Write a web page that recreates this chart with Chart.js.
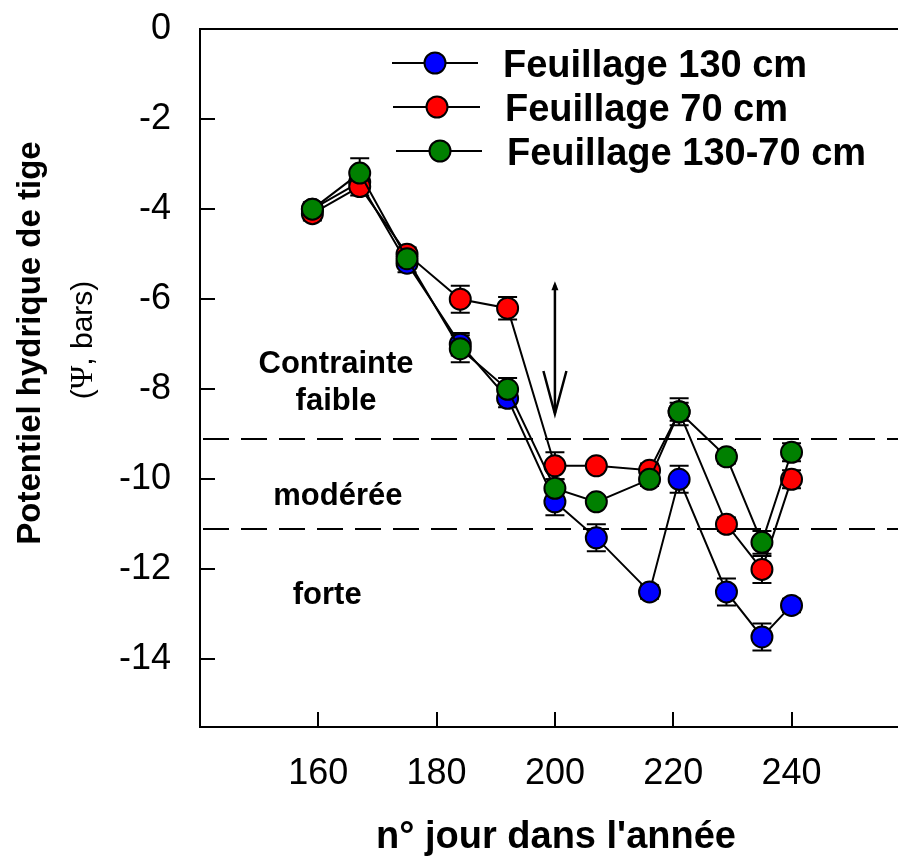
<!DOCTYPE html>
<html>
<head>
<meta charset="utf-8">
<script src="https://cdn.jsdelivr.net/npm/chart.js@4.4.1/dist/chart.umd.min.js"></script>
<style>
html,body{margin:0;padding:0;background:#fff;overflow:hidden}
#wrap{width:898px;height:858px;position:relative}
</style>
</head>
<body>
<div id="wrap"><canvas id="c" width="898" height="858"></canvas></div>
<script>
// ---------- data ----------
const DAYS = [159, 167, 175, 184, 192, 200, 207, 216, 221, 229, 235, 240];
const PSI_130    = [-4.0, -3.4, -5.2, -7.0, -8.2, -10.5, -11.3, -12.5, -10.0, -12.5, -13.5, -12.8];
const PSI_70     = [-4.1, -3.5, -5.0, -6.0, -6.2,  -9.7,  -9.7,  -9.8,  -8.5, -11.0, -12.0, -10.0];
const PSI_130_70 = [-4.0, -3.2, -5.1, -7.1, -8.0, -10.2, -10.5, -10.0,  -8.5,  -9.5, -11.4,  -9.4];
const ERR_130    = [0.15, 0.15, 0.2, 0.25, 0.2, 0.3, 0.3, 0.15, 0.3, 0.3, 0.3, 0.15];
const ERR_70     = [0.15, 0.2, 0.15, 0.3, 0.25, 0.3, 0.1, 0.15, 0.2, 0.15, 0.3, 0.2];
const ERR_130_70 = [0.1, 0.33, 0.2, 0.3, 0.25, 0.2, 0.1, 0.15, 0.3, 0.15, 0.25, 0.2];
const SERIES_LABELS = ['Feuillage 130 cm', 'Feuillage 70 cm', 'Feuillage 130-70 cm'];
const SERIES_COLORS = ['#0000ff', '#ff0000', '#008000'];
const X_TICKS = [160, 180, 200, 220, 240];
const Y_TICKS = [-14, -12, -10, -8, -6, -4, -2, 0];
const STRESS_LIMITS = [-9.1, -11.1];
const ZONE_LABELS = ['Contrainte', 'faible', 'modérée', 'forte'];
const X_TITLE = "n° jour dans l'année";
const Y_TITLE = 'Potentiel hydrique de tige';
const Y_SUBTITLE_PARTS = ['(', 'Ψ', ', bars)'];
const ARROW_DAY = 200, ARROW_FROM = -5.6, ARROW_TO = -8.55;

// ---------- layout (not data) ----------
const FONT = '"Liberation Sans", Arial, sans-serif';
const SERIF = '"Liberation Serif", "Times New Roman", serif';
const ZONE_POS = [[163.0, -7.65], [163.0, -8.47], [163.3, -10.58], [161.5, -12.76]];
const LEGEND_ROWS = [
  {y: 63,  x0: 392, x1: 478, mx: 435, tx: 503},
  {y: 107, x0: 393, x1: 480, mx: 437, tx: 505},
  {y: 151, x0: 396, x1: 482, mx: 440, tx: 507}
];

const VALUES = [PSI_130, PSI_70, PSI_130_70];
const ERRORS = [ERR_130, ERR_70, ERR_130_70];
const ORDERS = [2, 1, 0];

const datasets = VALUES.map((vals, s) => ({
  label: SERIES_LABELS[s],
  data: DAYS.map((d, i) => ({x: d, y: vals[i]})),
  borderColor: '#000',
  borderWidth: 2,
  backgroundColor: SERIES_COLORS[s],
  pointBackgroundColor: SERIES_COLORS[s],
  pointBorderColor: '#000',
  pointBorderWidth: 2,
  pointRadius: 10.5,
  pointHoverRadius: 10.5,
  tension: 0,
  fill: false,
  order: ORDERS[s]
}));

const decor = {
  id: 'decor',
  beforeDatasetsDraw(chart) {
    const {ctx, chartArea: a, scales: {x, y}} = chart;
    ctx.save();
    ctx.strokeStyle = '#000';
    ctx.lineWidth = 2;
    ctx.setLineDash([26, 12]);
    STRESS_LIMITS.forEach(v => {
      const py = Math.round(y.getPixelForValue(v));
      ctx.beginPath(); ctx.moveTo(a.left + 3, py); ctx.lineTo(a.right, py); ctx.stroke();
    });
    ctx.setLineDash([]);
    ctx.lineWidth = 2;
    VALUES.forEach((vals, s) => {
      vals.forEach((v, i) => {
        const e = ERRORS[s][i];
        const px = x.getPixelForValue(DAYS[i]);
        const t = y.getPixelForValue(v + e), b = y.getPixelForValue(v - e);
        ctx.beginPath();
        ctx.moveTo(px, t); ctx.lineTo(px, b);
        ctx.moveTo(px - 9.5, t); ctx.lineTo(px + 9.5, t);
        ctx.moveTo(px - 9.5, b); ctx.lineTo(px + 9.5, b);
        ctx.stroke();
      });
    });
    ctx.restore();
  },
  afterDraw(chart) {
    const {ctx, chartArea: a, scales: {x, y}} = chart;
    ctx.save();
    ctx.strokeStyle = '#000';
    ctx.fillStyle = '#000';
    // frame
    ctx.lineWidth = 2;
    ctx.beginPath();
    ctx.moveTo(a.right + 2, a.top); ctx.lineTo(a.left, a.top); ctx.lineTo(a.left, a.bottom); ctx.lineTo(a.right + 2, a.bottom);
    ctx.stroke();
    // inward ticks
    ctx.beginPath();
    Y_TICKS.forEach(v => { const py = Math.round(y.getPixelForValue(v)); ctx.moveTo(a.left, py); ctx.lineTo(a.left + 15, py); });
    X_TICKS.forEach(v => { const px = Math.round(x.getPixelForValue(v)); ctx.moveTo(px, a.bottom); ctx.lineTo(px, a.bottom - 15); });
    ctx.stroke();
    // arrow
    const ax = x.getPixelForValue(ARROW_DAY);
    const ay0 = y.getPixelForValue(ARROW_FROM), ay1 = y.getPixelForValue(ARROW_TO);
    ctx.lineWidth = 2.5;
    ctx.beginPath(); ctx.moveTo(ax, ay0 + 4); ctx.lineTo(ax, ay1 - 1); ctx.stroke();
    ctx.beginPath(); ctx.moveTo(ax - 11.5, ay1 - 43); ctx.lineTo(ax, ay1); ctx.lineTo(ax + 11.5, ay1 - 43); ctx.stroke();
    ctx.beginPath(); ctx.moveTo(ax, ay0); ctx.lineTo(ax - 3.5, ay0 + 9); ctx.lineTo(ax + 3.5, ay0 + 9); ctx.closePath(); ctx.fill();
    // zone labels
    ctx.font = 'bold 31px ' + FONT;
    ctx.textAlign = 'center';
    ctx.textBaseline = 'alphabetic';
    ZONE_LABELS.forEach((t, i) => {
      ctx.fillText(t, x.getPixelForValue(ZONE_POS[i][0]), y.getPixelForValue(ZONE_POS[i][1]));
    });
    // legend
    [0, 1, 2].forEach((s, r) => {
      const L = LEGEND_ROWS[r];
      ctx.lineWidth = 2;
      ctx.strokeStyle = '#000';
      ctx.beginPath(); ctx.moveTo(L.x0, L.y); ctx.lineTo(L.x1, L.y); ctx.stroke();
      ctx.beginPath(); ctx.arc(L.mx, L.y, 10.5, 0, Math.PI * 2);
      ctx.fillStyle = SERIES_COLORS[s]; ctx.fill(); ctx.stroke();
      ctx.fillStyle = '#000';
      ctx.font = 'bold 38px ' + FONT;
      ctx.textAlign = 'left';
      ctx.textBaseline = 'alphabetic';
      ctx.fillText(SERIES_LABELS[s], L.tx, L.y + 14);
    });
    // x title
    ctx.font = 'bold 38px ' + FONT;
    ctx.textAlign = 'center';
    ctx.textBaseline = 'alphabetic';
    ctx.fillText(X_TITLE, 556, 848);
    // y title
    ctx.save();
    ctx.translate(31, 343);
    ctx.rotate(-Math.PI / 2);
    ctx.textAlign = 'center'; ctx.textBaseline = 'middle';
    ctx.font = 'bold 33px ' + FONT;
    ctx.fillText(Y_TITLE, 0, 0);
    ctx.restore();
    // y subtitle with serif Psi
    ctx.save();
    ctx.translate(84, 340);
    ctx.rotate(-Math.PI / 2);
    ctx.textBaseline = 'middle';
    ctx.textAlign = 'left';
    const fonts = ['30px ' + FONT, '32px ' + SERIF, '30px ' + FONT];
    let total = 0;
    const widths = Y_SUBTITLE_PARTS.map((p, i) => { ctx.font = fonts[i]; const w = ctx.measureText(p).width; total += w; return w; });
    let cx = -total / 2;
    Y_SUBTITLE_PARTS.forEach((p, i) => { ctx.font = fonts[i]; ctx.fillText(p, cx, 0); cx += widths[i]; });
    ctx.restore();
    ctx.restore();
  }
};

new Chart(document.getElementById('c'), {
  type: 'line',
  data: {datasets},
  options: {
    responsive: false,
    animation: false,
    events: [],
    layout: {padding: {top: 29, left: 0, right: 0, bottom: 0}, autoPadding: false},
    plugins: {legend: {display: false}, tooltip: {enabled: false}},
    scales: {
      x: {
        type: 'linear', min: 140, max: 258,
        grid: {display: false}, border: {display: false},
        afterBuildTicks: s => { s.ticks = X_TICKS.map(v => ({value: v})); },
        afterFit: s => { s.height = 131; s.paddingLeft = 0; s.paddingRight = 0; },
        ticks: {color: '#000', padding: 17, font: {size: 36, family: FONT}, maxRotation: 0, autoSkip: false},
        title: {display: false, text: X_TITLE}
      },
      y: {
        type: 'linear', min: -15.5, max: 0,
        grid: {display: false}, border: {display: false},
        afterBuildTicks: s => { s.ticks = Y_TICKS.map(v => ({value: v})); },
        afterFit: s => { s.width = 200; s.paddingTop = 0; s.paddingBottom = 0; },
        ticks: {color: '#000', padding: 21, font: {size: 36, family: FONT}, autoSkip: false},
        title: {display: false, text: Y_TITLE}
      }
    }
  },
  plugins: [decor]
});
</script>
</body>
</html>
